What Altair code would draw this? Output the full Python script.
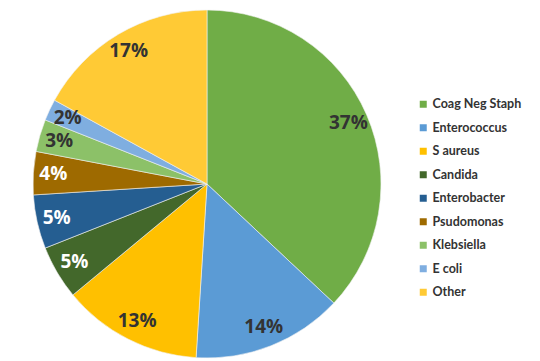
import altair as alt
import pandas as pd

categories = ["Coag Neg Staph", "Enterococcus", "S aureus", "Candida", "Enterobacter",
              "Psudomonas", "Klebsiella", "E coli", "Other"]
values = [37, 14, 13, 5, 5, 4, 3, 2, 17]
colors = ["#70AD47", "#5B9BD5", "#FFC000", "#43682B", "#255E91",
          "#9E6A00", "#8CC168", "#7FAEE0", "#FFCA35"]
label_colors = ["#333333", "#333333", "#333333", "#FFFFFF", "#FFFFFF",
                "#FFFFFF", "#333333", "#333333", "#333333"]

df = pd.DataFrame({
    "cat": categories,
    "val": values,
    "idx": list(range(len(categories))),
    "lbl": [f"{v}%" for v in values],
    "lc": label_colors,
})

base = alt.Chart(df).encode(
    theta=alt.Theta("val:Q", stack=True),
    order=alt.Order("idx:Q", sort="ascending"),
)

arcs = base.mark_arc(outerRadius=174, stroke="#F2F2F2", strokeWidth=0.6).encode(
    color=alt.Color(
        "cat:N",
        scale=alt.Scale(domain=categories, range=colors),
        sort=categories,
        legend=alt.Legend(
            title=None, orient="none", legendX=409, legendY=87,
            symbolType="square", symbolSize=49, symbolStrokeWidth=0,
            labelFont="Lato", labelFontWeight="bold", labelFontSize=12.5,
            labelColor="#333333", rowPadding=10.5, labelOffset=3,
        ),
    )
)

texts = base.mark_text(radius=154, font="Open Sans", fontWeight="bold", fontSize=19).encode(
    text="lbl:N",
    color=alt.Color("lc:N", scale=None),
)

chart = alt.layer(arcs, texts).resolve_scale(color="independent").properties(
    width=398, height=346, padding=0
).configure_view(stroke=None)

chart.save("out.html", embed_options={"renderer": "svg", "actions": False})
